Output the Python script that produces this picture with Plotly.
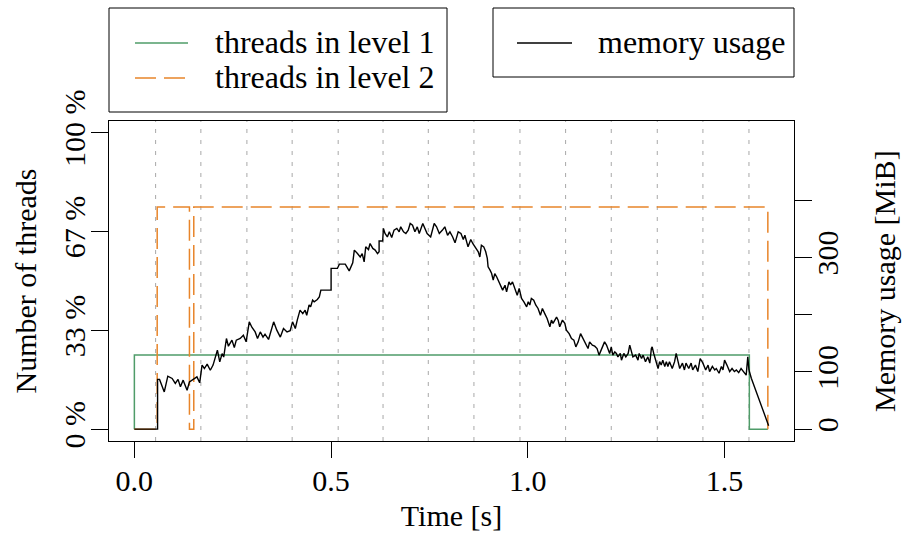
import plotly.graph_objects as go

# ---------------- data ----------------
# threads (fraction of available threads), step functions over time [s]
level1_time = [0.0, 0.0, 1.563, 1.610]
level1_frac = [0.0, 0.25, 0.0, 0.0]

level2_time = [0.0, 0.058, 0.140, 0.151, 1.610]
level2_frac = [0.0, 0.75, 0.0, 0.75, 0.0]

# vertical marker lines (phase boundaries) [s]
phase_times = [0.054, 0.169, 0.286, 0.401, 0.518, 0.632, 0.747,
               0.863, 0.980, 1.096, 1.212, 1.329, 1.445, 1.562]

# memory usage trace
mem_time = [
    0.0, 0.059, 0.059, 0.064, 0.076, 0.085, 0.096, 0.104, 0.111, 0.117,
    0.124, 0.134, 0.140, 0.151, 0.159, 0.166, 0.172, 0.178, 0.185, 0.193,
    0.200, 0.211, 0.217, 0.223, 0.227, 0.234, 0.239, 0.248, 0.254, 0.259,
    0.269, 0.277, 0.284, 0.292, 0.299, 0.307, 0.313, 0.320, 0.327, 0.332,
    0.341, 0.354, 0.362, 0.371, 0.379, 0.388, 0.396, 0.402, 0.409, 0.414,
    0.421, 0.428, 0.434, 0.438, 0.444, 0.448, 0.453, 0.457, 0.465, 0.470,
    0.474, 0.500, 0.500, 0.516, 0.521, 0.536, 0.546, 0.555, 0.559, 0.567,
    0.574, 0.579, 0.584, 0.588, 0.595, 0.599, 0.606, 0.612, 0.618, 0.622,
    0.622, 0.631, 0.633, 0.637, 0.643, 0.648, 0.654, 0.660, 0.667, 0.673,
    0.677, 0.684, 0.690, 0.696, 0.701, 0.707, 0.713, 0.719, 0.724, 0.733,
    0.739, 0.744, 0.753, 0.758, 0.762, 0.768, 0.775, 0.783, 0.789, 0.796,
    0.802, 0.809, 0.815, 0.823, 0.830, 0.836, 0.840, 0.848, 0.855,
    0.860, 0.865, 0.874, 0.878, 0.882, 0.888, 0.893, 0.897, 0.899, 0.904,
    0.908, 0.912, 0.916, 0.921, 0.925, 0.931, 0.936, 0.942, 0.946, 0.952,
    0.956, 0.961, 0.967, 0.973, 0.978, 0.984, 0.990, 0.997, 1.001, 1.005,
    1.009, 1.015, 1.020, 1.026, 1.032, 1.037, 1.043, 1.049, 1.056, 1.060,
    1.064, 1.068, 1.073, 1.077, 1.081, 1.088, 1.094, 1.098, 1.105, 1.111,
    1.117, 1.122, 1.128, 1.134, 1.140, 1.147, 1.153, 1.157, 1.164, 1.170,
    1.176, 1.181,
    1.190, 1.195, 1.200, 1.204, 1.208, 1.212, 1.216, 1.221, 1.225, 1.229,
    1.235, 1.238, 1.244, 1.249, 1.255, 1.259, 1.263, 1.267, 1.274, 1.280,
    1.283, 1.289, 1.293, 1.299, 1.305, 1.310, 1.314, 1.316, 1.320, 1.325,
    1.331, 1.335, 1.339, 1.343, 1.348, 1.352, 1.356, 1.360, 1.367, 1.373,
    1.377, 1.381, 1.386, 1.393, 1.398, 1.402, 1.409, 1.415, 1.419, 1.426,
    1.432, 1.438, 1.445, 1.452, 1.458, 1.462, 1.469, 1.475, 1.479, 1.486,
    1.492, 1.496, 1.500, 1.506, 1.513, 1.519, 1.525, 1.530, 1.536, 1.542,
    1.548, 1.555, 1.559, 1.562, 1.568, 1.589, 1.612,
]
mem_mib = [
    0, 0, 87, 87, 65, 92.6, 88.6, 80, 87, 74,
    85.7, 68, 82.7, 87, 91.4, 81, 112, 106, 113.6, 103,
    112, 138, 117.7, 132, 126, 158.5, 145, 155.6, 142.8, 155.6,
    158.5, 164, 152.7, 187.6, 177.8, 170, 158.5, 170, 161, 166,
    156.8, 187.6, 173, 161, 176, 170, 172, 187.6, 176, 190.6,
    208, 202, 208, 199, 217, 214, 225.5, 222.6, 226.7, 231,
    243, 243, 281, 281, 288.5, 288.5, 276.7, 290.7, 313, 307,
    301, 307, 292.5, 318.7, 314, 324.6, 316, 313, 307, 310,
    329, 329, 351, 342, 336, 345, 335, 348, 351, 345,
    353.7, 345, 342, 348, 359.6, 356.6, 345, 353.7, 342, 359.6,
    348, 342, 336, 351, 359.6, 353.7, 342, 348, 353.7, 339,
    345, 336, 325.7, 345, 342, 331.6, 339, 318.7, 331.6,
    324.6, 318.7, 310, 301, 321.7, 318.7, 310, 298.4, 283.7, 278,
    272, 260.5, 272, 266, 260.5, 251.7, 243, 251.7, 240, 257.5,
    252, 257.5, 246, 234, 246, 228.5, 222.6, 213.8, 222.6, 217,
    228.5, 225.5, 217, 211, 199, 211, 202, 193.5, 179, 190.6,
    185, 190.6, 196, 190.6, 179, 190.6, 185, 173, 167, 158.5,
    155.6, 143.9, 152.6, 167, 158.5, 149.8, 141, 152.6, 146.9, 145,
    141, 129.4,
    143.9, 152.6, 147, 138, 132.3, 143.9, 129.4, 135, 132.3, 126.4,
    132.3, 120.6, 132.3, 126.4, 132.3, 146.9, 135, 126.4, 129.4, 120.6,
    132.3, 123.5, 129.4, 118, 126.4, 115.4, 141, 143.9, 132.3, 120.6,
    106, 118, 112, 120.6, 109.6, 118, 109.6, 118, 106, 118,
    132.3, 120.6, 106, 115.4, 103.5, 115.4, 106, 115.4, 103.5, 112,
    100.6, 123.5, 115.4, 103.5, 112, 100.6, 109.6, 103.5, 106, 97.7,
    109.6, 103.5, 120.6, 112, 100.6, 106, 100.6, 103.5, 98.8, 106,
    100.6, 94.5, 126.4, 103.5, 89, 51, 6,
]
assert len(mem_time) == len(mem_mib)

x_ticks = [0.0, 0.5, 1.0, 1.5]
x_ticklabels = ["0.0", "0.5", "1.0", "1.5"]
y_ticks = [0.0, 1 / 3, 2 / 3, 1.0]
y_ticklabels = ["0 %", "33 %", "67 %", "100 %"]
mem_ticks = [0, 100, 200, 300, 400]
mem_ticklabels = ["0", "100", "", "300", ""]

series_names = ["threads in level 1", "threads in level 2", "memory usage"]
x_title = "Time [s]"
y_title = "Number of threads"
y2_title = "Memory usage [MiB]"

# ---------------- styling ----------------
FONT = "Liberation Serif"
FS = 30
FS_LEG = 32
GREEN = "#4f9c69"
ORANGE = "#e8852a"
BLACK = "#000000"

W, H = 903, 540
ML, MR, MT, MB = 109, 109, 121, 99
PW, PH = W - ML - MR, H - MT - MB


def px_x(p):
    return (p - ML) / PW


def px_y(p):
    return (H - MB - p) / PH


x_max = max(mem_time + level1_time + level2_time)
x_range = [-0.04 * x_max, 1.04 * x_max]
mem_top = 518.0
mem_range = [-0.04 * mem_top, 1.04 * mem_top]

fig = go.Figure()

fig.add_trace(go.Scatter(
    x=level1_time, y=level1_frac, mode="lines", name=series_names[0],
    line=dict(color=GREEN, width=1.5, shape="hv"), showlegend=False,
))
fig.add_trace(go.Scatter(
    x=level2_time, y=level2_frac, mode="lines", name=series_names[1],
    line=dict(color=ORANGE, width=1.5, shape="hv", dash="21px,8px"),
    showlegend=False,
))
fig.add_trace(go.Scatter(
    x=mem_time, y=mem_mib, mode="lines", name=series_names[2],
    line=dict(color=BLACK, width=1.4), yaxis="y2", showlegend=False,
))

shapes = []
for t in phase_times:
    shapes.append(dict(type="line", xref="x", yref="paper", x0=t, x1=t,
                       y0=0, y1=1, layer="below",
                       line=dict(color="#a8a8a8", width=1, dash="4px,7px")))

# legend boxes
shapes.append(dict(type="rect", xref="paper", yref="paper",
                   x0=px_x(109), x1=px_x(447), y0=px_y(112), y1=px_y(8),
                   line=dict(color=BLACK, width=1)))
shapes.append(dict(type="rect", xref="paper", yref="paper",
                   x0=px_x(493), x1=px_x(794), y0=px_y(77), y1=px_y(8),
                   line=dict(color=BLACK, width=1)))
# legend samples
shapes.append(dict(type="line", xref="paper", yref="paper",
                   x0=px_x(135), x1=px_x(188), y0=px_y(43), y1=px_y(43),
                   line=dict(color=GREEN, width=1.5)))
shapes.append(dict(type="line", xref="paper", yref="paper",
                   x0=px_x(135), x1=px_x(188), y0=px_y(78), y1=px_y(78),
                   line=dict(color=ORANGE, width=1.5, dash="21px,8px")))
shapes.append(dict(type="line", xref="paper", yref="paper",
                   x0=px_x(517), x1=px_x(572), y0=px_y(43), y1=px_y(43),
                   line=dict(color=BLACK, width=1.4)))

leg_font = dict(family=FONT, size=FS_LEG, color=BLACK)
axis_font = dict(family=FONT, size=FS, color=BLACK)
annotations = [
    dict(text=series_names[0], xref="paper", yref="paper", x=px_x(213),
         y=px_y(42), xanchor="left", yanchor="middle", showarrow=False,
         font=leg_font),
    dict(text=series_names[1], xref="paper", yref="paper", x=px_x(213),
         y=px_y(77), xanchor="left", yanchor="middle", showarrow=False,
         font=leg_font),
    dict(text=series_names[2], xref="paper", yref="paper", x=px_x(596),
         y=px_y(42), xanchor="left", yanchor="middle", showarrow=False,
         font=leg_font),
    # right axis title
    dict(text=y2_title, xref="paper", yref="paper", x=px_x(884),
         y=0.5, xanchor="center", yanchor="middle", showarrow=False,
         textangle=-90, font=axis_font),
]

fig.update_layout(
    width=W, height=H, autosize=False,
    margin=dict(l=ML, r=MR, t=MT, b=MB, pad=0),
    paper_bgcolor="white", plot_bgcolor="white",
    font=axis_font,
    shapes=shapes, annotations=annotations,
    showlegend=False,
    xaxis=dict(
        range=x_range, tickvals=x_ticks, ticktext=x_ticklabels,
        ticks="outside", ticklen=16, tickwidth=1, tickcolor=BLACK,
        showline=True, linecolor=BLACK, linewidth=1, mirror=True,
        showgrid=False, zeroline=False, tickfont=axis_font,
        ticklabelstandoff=-3,
        title=dict(text=x_title, font=axis_font, standoff=8),
        automargin=False,
    ),
    yaxis=dict(
        range=[-0.04, 1.04], tickvals=y_ticks, ticktext=y_ticklabels,
        ticks="outside", ticklen=17, tickwidth=1, tickcolor=BLACK,
        showline=True, linecolor=BLACK, linewidth=1, mirror=True,
        showgrid=False, zeroline=False, tickfont=axis_font,
        tickangle=-90, ticklabelstandoff=-6,
        title=dict(text=y_title, font=axis_font, standoff=12),
        automargin=False,
    ),
    yaxis2=dict(
        range=mem_range, tickvals=mem_ticks, ticktext=mem_ticklabels,
        overlaying="y", side="right",
        ticks="outside", ticklen=17, tickwidth=1, tickcolor=BLACK,
        showline=True, linecolor=BLACK, linewidth=1,
        showgrid=False, zeroline=False, tickfont=axis_font,
        tickangle=-90, ticklabelstandoff=-10,
        automargin=False,
    ),
)

fig.write_html("out.html")
